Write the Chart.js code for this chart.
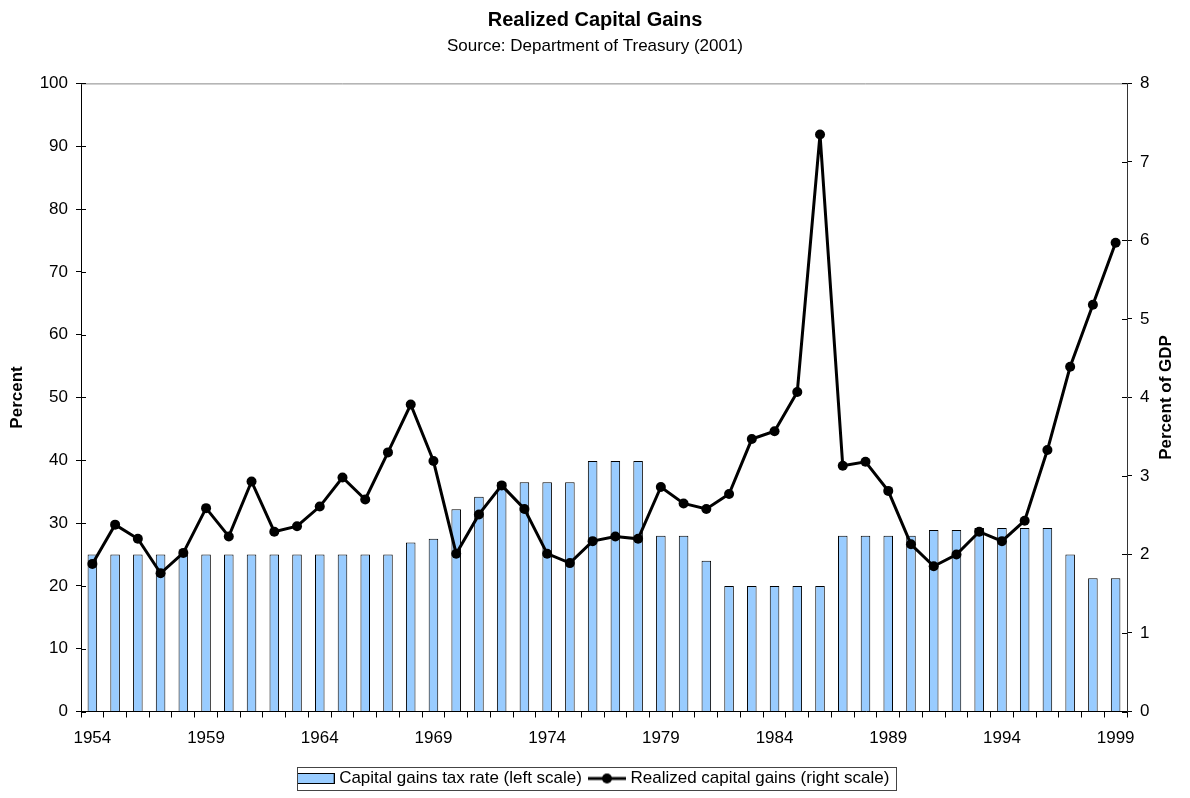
<!DOCTYPE html>
<html>
<head>
<meta charset="utf-8">
<title>Realized Capital Gains</title>
<script src="https://cdn.jsdelivr.net/npm/chart.js@4.4.1/dist/chart.umd.min.js"></script>
<style>
  html, body { margin: 0; padding: 0; background: #fff; }
  #wrap { width: 1190px; height: 798px; position: relative; }
</style>
</head>
<body>
<div id="wrap"><canvas id="gainsChart"></canvas></div>
<script>
// 연도 (카테고리)
const years = ['1954', '1955', '1956', '1957', '1958', '1959', '1960', '1961', '1962', '1963',
  '1964', '1965', '1966', '1967', '1968', '1969', '1970', '1971', '1972', '1973',
  '1974', '1975', '1976', '1977', '1978', '1979', '1980', '1981', '1982', '1983',
  '1984', '1985', '1986', '1987', '1988', '1989', '1990', '1991', '1992', '1993',
  '1994', '1995', '1996', '1997', '1998', '1999'];

// 자본이득세율 (왼쪽 축, %)
const taxRate = [25, 25, 25, 25, 25, 25, 25, 25, 25, 25,
  25, 25, 25, 25, 26.9, 27.5, 32.2, 34.2, 36.5, 36.5,
  36.5, 36.5, 39.9, 39.9, 39.9, 28, 28, 24, 20, 20,
  20, 20, 20, 28, 28, 28, 28, 28.9, 28.9, 29.2,
  29.2, 29.2, 29.2, 25, 21.2, 21.2];

// 실현 자본이득 (오른쪽 축, GDP 대비 %)
const realizedGains = [1.88, 2.38, 2.20, 1.76, 2.02, 2.59, 2.23, 2.93, 2.29, 2.36,
  2.61, 2.98, 2.70, 3.30, 3.91, 3.19, 2.01, 2.51, 2.88, 2.58,
  2.01, 1.89, 2.17, 2.23, 2.20, 2.86, 2.65, 2.58, 2.77, 3.47,
  3.57, 4.07, 7.35, 3.13, 3.18, 2.81, 2.13, 1.85, 2.00, 2.29,
  2.17, 2.43, 3.33, 4.39, 5.18, 5.97];

// x축 라벨은 5년마다
const labelEvery = 5;

const colors = {
  bar: '#99ccff',
  text: '#000000',
  frame: '#888888'
};

const FONT = 'Liberation Sans, Arial, Helvetica, sans-serif';

// 범례 샘플 이미지
function makeBarSample() {
  const c = document.createElement('canvas');
  c.width = 38; c.height = 11;
  const g = c.getContext('2d');
  g.fillStyle = colors.bar;
  g.fillRect(0.5, 0.5, 37, 10);
  g.strokeStyle = '#000';
  g.lineWidth = 1;
  g.strokeRect(0.5, 0.5, 37, 10);
  return c;
}

function makeLineSample() {
  const c = document.createElement('canvas');
  c.width = 38; c.height = 12;
  const g = c.getContext('2d');
  g.strokeStyle = '#000';
  g.lineWidth = 3;
  g.beginPath();
  g.moveTo(0, 6); g.lineTo(38, 6);
  g.stroke();
  g.fillStyle = '#000';
  g.beginPath();
  g.arc(19, 6, 5, 0, Math.PI * 2);
  g.fill();
  return c;
}

const barSample = makeBarSample();
const lineSample = makeLineSample();

// 상단 테두리, 안쪽 눈금, 오른쪽 축 제목, 범례 상자
const framePlugin = {
  id: 'frame',
  afterDraw(chart) {
    const { ctx, chartArea } = chart;
    ctx.save();
    ctx.strokeStyle = colors.frame;
    ctx.lineWidth = 1;
    ctx.beginPath();
    ctx.moveTo(chartArea.left, chartArea.top + 0.5);
    ctx.lineTo(chartArea.right, chartArea.top + 0.5);
    ctx.stroke();

    // 축 안쪽으로 짧은 눈금
    ctx.strokeStyle = '#000';
    ctx.beginPath();
    chart.scales.y.ticks.forEach(t => {
      const py = Math.round(chart.scales.y.getPixelForValue(t.value)) + 0.5;
      ctx.moveTo(chartArea.left, py);
      ctx.lineTo(chartArea.left + 5, py);
    });
    chart.scales.y1.ticks.forEach(t => {
      const py = Math.round(chart.scales.y1.getPixelForValue(t.value)) + 0.5;
      ctx.moveTo(chartArea.right, py);
      ctx.lineTo(chartArea.right - 5, py);
    });
    ctx.stroke();

    // 오른쪽 축 제목 (아래에서 위로)
    ctx.save();
    ctx.translate(1166, (chartArea.top + chartArea.bottom) / 2);
    ctx.rotate(-Math.PI / 2);
    ctx.fillStyle = colors.text;
    ctx.font = 'bold 17px ' + FONT;
    ctx.textAlign = 'center';
    ctx.textBaseline = 'middle';
    ctx.fillText('Percent of GDP', 0, 0);
    ctx.restore();

    const boxes = chart.legend.legendHitBoxes;
    if (boxes && boxes.length) {
      const first = boxes[0];
      const last = boxes[boxes.length - 1];
      const left = Math.round(first.left - 4) + 0.5;
      const right = Math.round(last.left + last.width + 7) + 0.5;
      const top = Math.round(first.top - 3) + 0.5;
      const bottom = Math.round(first.top + first.height + 3) + 0.5;
      ctx.strokeStyle = '#444';
      ctx.strokeRect(left, top, right - left, bottom - top);
    }
    ctx.restore();
  }
};

const ctx = document.getElementById('gainsChart').getContext('2d');

new Chart(ctx, {
  type: 'bar',
  data: {
    labels: years,
    datasets: [
      {
        type: 'bar',
        label: 'Capital gains tax rate (left scale)',
        data: taxRate,
        backgroundColor: colors.bar,
        borderColor: '#000',
        borderWidth: 1,
        categoryPercentage: 1,
        barPercentage: 0.42,
        yAxisID: 'y',
        order: 2
      },
      {
        type: 'line',
        label: 'Realized capital gains (right scale)',
        data: realizedGains,
        borderColor: '#000',
        backgroundColor: '#000',
        borderWidth: 3,
        pointRadius: 5,
        pointBackgroundColor: '#000',
        pointBorderWidth: 0,
        tension: 0,
        yAxisID: 'y1',
        order: 1
      }
    ]
  },
  options: {
    responsive: true,
    maintainAspectRatio: false,
    animation: false,
    layout: {
      padding: { top: 0, left: 0, right: 0, bottom: 1 }
    },
    plugins: {
      title: {
        display: true,
        text: 'Realized Capital Gains',
        color: colors.text,
        font: { family: FONT, size: 20, weight: 'bold' },
        padding: { top: 8, bottom: 1 }
      },
      subtitle: {
        display: true,
        text: 'Source: Department of Treasury (2001)',
        color: colors.text,
        font: { family: FONT, size: 17 },
        padding: { top: 3, bottom: 27 }
      },
      legend: {
        position: 'bottom',
        labels: {
          color: colors.text,
          font: { family: FONT, size: 17 },
          usePointStyle: true,
          pointStyleWidth: 30,
          boxHeight: 12,
          padding: 10,
          generateLabels(chart) {
            return chart.data.datasets.map((ds, i) => ({
              text: ds.label,
              datasetIndex: i,
              pointStyle: i === 0 ? barSample : lineSample,
              fillStyle: 'transparent',
              strokeStyle: 'transparent',
              lineWidth: 0,
              fontColor: colors.text,
              hidden: false
            }));
          }
        }
      },
      tooltip: { enabled: false }
    },
    scales: {
      x: {
        offset: true,
        grid: {
          offset: true,
          drawOnChartArea: false,
          tickLength: 6,
          color: '#000'
        },
        border: { display: true, color: '#000', width: 1 },
        ticks: {
          autoSkip: false,
          maxRotation: 0,
          padding: 11,
          color: colors.text,
          font: { family: FONT, size: 17 },
          callback(value, index) {
            return index % labelEvery === 0 ? years[index] : '';
          }
        },
        afterFit(scale) { scale.height = 48.5; }
      },
      y: {
        position: 'left',
        min: 0,
        max: 100,
        grid: { drawOnChartArea: false, tickLength: 5, color: '#000' },
        border: { display: true, color: '#000', width: 1 },
        ticks: {
          stepSize: 10,
          padding: 8,
          color: colors.text,
          font: { family: FONT, size: 17 }
        },
        title: {
          display: true,
          text: 'Percent',
          color: colors.text,
          font: { family: FONT, size: 17, weight: 'bold' },
          padding: { top: 7, bottom: 0 }
        },
        afterFit(scale) { scale.width = 81; }
      },
      y1: {
        position: 'right',
        min: 0,
        max: 8,
        grid: { drawOnChartArea: false, tickLength: 5, color: '#000' },
        border: { display: true, color: '#333', width: 1 },
        ticks: {
          stepSize: 1,
          padding: 8,
          color: colors.text,
          font: { family: FONT, size: 17 }
        },
        afterFit(scale) { scale.width = 63; }
      }
    }
  },
  plugins: [framePlugin]
});
</script>
</body>
</html>
